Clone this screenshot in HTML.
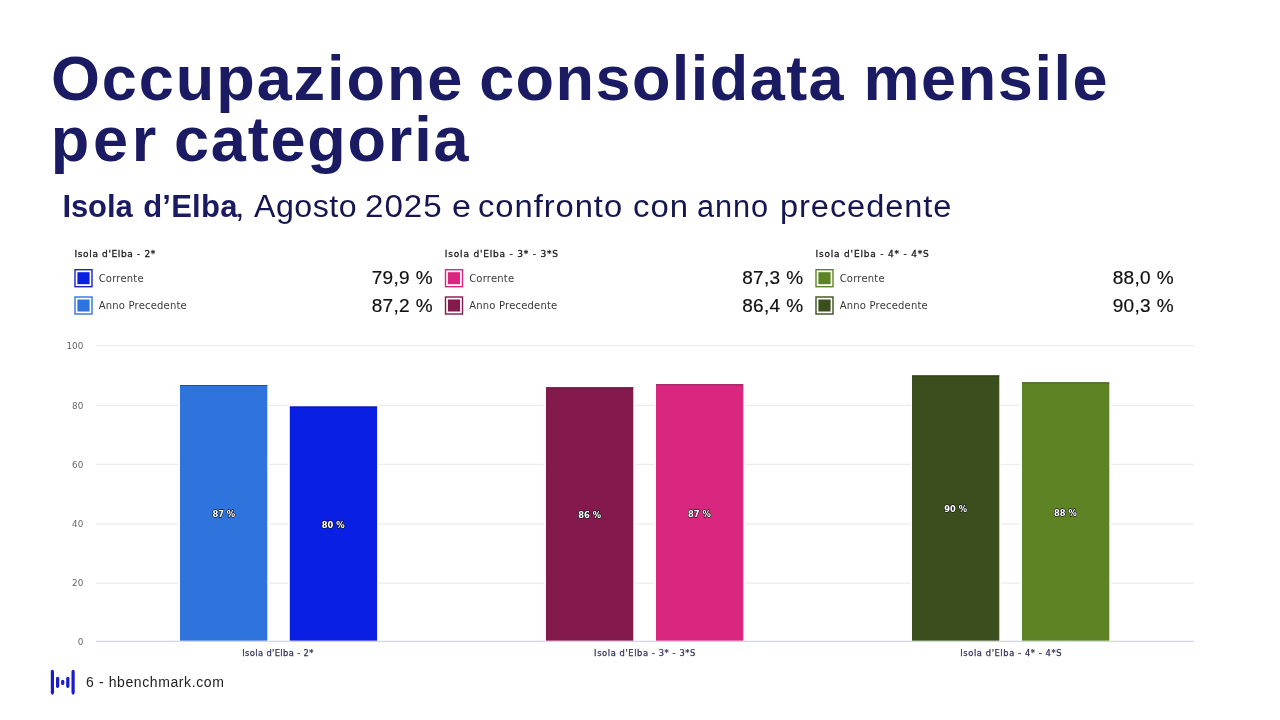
<!DOCTYPE html>
<html lang="it">
<head>
<meta charset="utf-8">
<title>Occupazione consolidata mensile per categoria</title>
<style>
html,body{margin:0;padding:0;background:#fff;}
body{width:1280px;height:720px;position:relative;overflow:hidden;font-family:"Liberation Sans",sans-serif;}
.abs{position:absolute;white-space:nowrap;line-height:1;}
.ln{color:#1b1b64;}
.ln{position:absolute;left:0;white-space:nowrap;line-height:1;margin:0;font-weight:normal;}
.w{display:inline-block;position:relative;}
.b{font-weight:bold;}
.s{transform-origin:0 50%;color:#15154f;}
.lh{font-family:"DejaVu Sans","Liberation Sans",sans-serif;font-size:9px;color:#1c1c1c;letter-spacing:0.72px;-webkit-text-stroke:0.3px #1c1c1c;}
.lt{font-family:"DejaVu Sans","Liberation Sans",sans-serif;font-size:10px;color:#3a3a3a;letter-spacing:0.2px;}
.lv{letter-spacing:0.35px;font-size:19px;color:#111;text-align:right;-webkit-text-stroke:0.2px #111;}
#foot{font-size:14px;color:#222;letter-spacing:0.6px;}
svg text{font-family:"DejaVu Sans","Liberation Sans",sans-serif;}
</style>
</head>
<body>
<div class="ln tl" id="t1" style="top:46.8px;font-size:63px"><span class="w b" style="left:50.9px;letter-spacing:1.94px">Occupazione</span> <span class="w b" style="left:48.2px;letter-spacing:1.44px">consolidata</span> <span class="w b" style="left:49.1px;letter-spacing:1.58px">mensile</span></div>
<div class="ln tl" id="t2" style="top:108.0px;font-size:63px"><span class="w b" style="left:50.8px;letter-spacing:3.75px">per</span> <span class="w b" style="left:47.2px;letter-spacing:1.80px">categoria</span></div>
<div class="ln sl" id="sub" style="top:190.9px;font-size:31px"><span class="w b" style="left:62.5px;letter-spacing:-0.12px">Isola</span> <span class="w b" style="left:64.5px;letter-spacing:0.24px">d’Elba</span><span class="w s" style="left:62.2px;letter-spacing:0.00px;transform:scaleX(1.1)">,</span> <span class="w s" style="left:63.4px;letter-spacing:0.50px;transform:scaleX(1.036)">Agosto</span> <span class="w s" style="left:66.4px;letter-spacing:0.90px;transform:scaleX(1.070)">2025</span> <span class="w s" style="left:72.2px;letter-spacing:0.00px;transform:scaleX(1.100)">e</span> <span class="w s" style="left:72.8px;letter-spacing:0.90px;transform:scaleX(1.056)">confronto</span> <span class="w s" style="left:81.9px;letter-spacing:0.90px;transform:scaleX(1.061)">con</span> <span class="w s" style="left:84.5px;letter-spacing:0.90px;transform:scaleX(0.990)">anno</span> <span class="w s" style="left:85.8px;letter-spacing:0.90px;transform:scaleX(1.050)">precedente</span></div>

<!-- legend group 1 -->
<div class="abs lh" id="lh1" style="left:74.5px;top:249.5px;letter-spacing:0.64px">Isola d'Elba - 2*</div>
<div class="abs lt" id="lt1a" style="left:98.7px;top:273.6px">Corrente</div>
<div class="abs lv" id="lv1a" style="right:847.1px;top:268.3px">79,9 %</div>
<div class="abs lt" id="lt1b" style="left:98.7px;top:300.5px">Anno Precedente</div>
<div class="abs lv" id="lv1b" style="right:847.1px;top:295.6px">87,2 %</div>

<!-- legend group 2 -->
<div class="abs lh" id="lh2" style="left:444.8px;top:249.5px;letter-spacing:0.81px">Isola d'Elba - 3* - 3*S</div>
<div class="abs lt" style="left:469.2px;top:273.6px">Corrente</div>
<div class="abs lv" style="right:476.6px;top:268.3px">87,3 %</div>
<div class="abs lt" style="left:469.2px;top:300.5px">Anno Precedente</div>
<div class="abs lv" style="right:476.6px;top:295.6px">86,4 %</div>

<!-- legend group 3 -->
<div class="abs lh" id="lh3" style="left:815.5px;top:249.5px;letter-spacing:0.81px">Isola d'Elba - 4* - 4*S</div>
<div class="abs lt" style="left:839.7px;top:273.6px">Corrente</div>
<div class="abs lv" style="right:106.1px;top:268.3px">88,0 %</div>
<div class="abs lt" style="left:839.7px;top:300.5px">Anno Precedente</div>
<div class="abs lv" style="right:106.1px;top:295.6px">90,3 %</div>

<!-- chart -->
<svg class="abs" style="left:0;top:0" width="1280" height="720" viewBox="0 0 1280 720">
  <g stroke="#ececec" stroke-width="1.3">
    <line x1="96" x2="1194" y1="345.6" y2="345.6"/>
    <line x1="96" x2="1194" y1="405.3" y2="405.3"/>
    <line x1="96" x2="1194" y1="464.4" y2="464.4"/>
    <line x1="96" x2="1194" y1="523.9" y2="523.9"/>
    <line x1="96" x2="1194" y1="583.2" y2="583.2"/>
  </g>
  <g font-size="8.8" fill="#666" text-anchor="end">
    <text x="83.3" y="349">100</text>
    <text x="83.3" y="409">80</text>
    <text x="83.3" y="468">60</text>
    <text x="83.3" y="527">40</text>
    <text x="83.3" y="586">20</text>
    <text x="83.3" y="645">0</text>
  </g>
  <g fill="#fff">
    <rect x="178.5" y="383.5" width="90.3" height="257.3"/>
    <rect x="288.3" y="405.0" width="90.3" height="235.8"/>
    <rect x="544.5" y="385.8" width="90.3" height="255.0"/>
    <rect x="654.5" y="382.7" width="90.3" height="258.1"/>
    <rect x="910.5" y="373.9" width="90.3" height="266.9"/>
    <rect x="1020.5" y="380.8" width="90.3" height="260.0"/>
  </g>
  <g>
    <rect x="180" y="385" width="87.3" height="255.8" fill="#2f74dc"/>
    <rect x="180" y="385" width="87.3" height="1" fill="#1d4788" opacity="0.8"/>
    <rect x="289.8" y="406.5" width="87.3" height="234.3" fill="#0a1fe4"/>
    <rect x="289.8" y="406.5" width="87.3" height="1" fill="#06138d" opacity="0.8"/>
    <rect x="546" y="387.3" width="87.3" height="253.5" fill="#84194d"/>
    <rect x="546" y="387.3" width="87.3" height="1" fill="#510f2f" opacity="0.8"/>
    <rect x="656" y="384.2" width="87.3" height="256.6" fill="#d9277f"/>
    <rect x="656" y="384.2" width="87.3" height="1" fill="#86184e" opacity="0.8"/>
    <rect x="912" y="375.4" width="87.3" height="265.4" fill="#3a4f1d"/>
    <rect x="912" y="375.4" width="87.3" height="1" fill="#233011" opacity="0.8"/>
    <rect x="1022" y="382.3" width="87.3" height="258.5" fill="#5e8324"/>
    <rect x="1022" y="382.3" width="87.3" height="1" fill="#3a5116" opacity="0.8"/>
  </g>
  <line x1="96" x2="1194" y1="641.3" y2="641.3" stroke="#d3d7ee" stroke-width="1.3"/>

  <g font-size="8.3" font-weight="bold" fill="#fff" text-anchor="middle" stroke="#1a1a1a" stroke-width="1.3" paint-order="stroke" stroke-linejoin="round">
    <text x="223.8" y="517">87 %</text>
    <text x="333.2" y="527.6">80 %</text>
    <text x="589.6" y="518">86 %</text>
    <text x="699.4" y="516.5">87 %</text>
    <text x="955.6" y="512">90 %</text>
    <text x="1065.4" y="515.5">88 %</text>
  </g>
  <g font-size="8.3" fill="#33335c" text-anchor="middle" letter-spacing="0.46" stroke="#33335c" stroke-width="0.25">
    <text x="278" y="655.5" letter-spacing="0.38">Isola d'Elba - 2*</text>
    <text x="645" y="655.5" letter-spacing="0.6">Isola d'Elba - 3* - 3*S</text>
    <text x="1011.2" y="655.5" letter-spacing="0.6">Isola d'Elba - 4* - 4*S</text>
  </g>
  <g fill="none" stroke-width="1.4">
    <rect x="75.0" y="269.7" width="17.0" height="17.0" stroke="#1a22c9"/>
    <rect x="77.4" y="272.2" width="12.2" height="12.0" fill="#0b1fe0" stroke="none"/>
    <rect x="75.0" y="297.0" width="17.0" height="17.0" stroke="#2f74dc"/>
    <rect x="77.4" y="299.5" width="12.2" height="12.0" fill="#2f74dc" stroke="none"/>
    <rect x="445.5" y="269.7" width="17.0" height="17.0" stroke="#d9277f"/>
    <rect x="447.9" y="272.2" width="12.2" height="12.0" fill="#d9277f" stroke="none"/>
    <rect x="445.5" y="297.0" width="17.0" height="17.0" stroke="#84194d"/>
    <rect x="447.9" y="299.5" width="12.2" height="12.0" fill="#84194d" stroke="none"/>
    <rect x="816.0" y="269.7" width="17.0" height="17.0" stroke="#5e8324"/>
    <rect x="818.4" y="272.2" width="12.2" height="12.0" fill="#5e8324" stroke="none"/>
    <rect x="816.0" y="297.0" width="17.0" height="17.0" stroke="#3a4f1d"/>
    <rect x="818.4" y="299.5" width="12.2" height="12.0" fill="#3a4f1d" stroke="none"/>
  </g>
  <g fill="#1a1ad0">
    <path d="M50.8,671.4 a1.6,1.6 0 0 1 3.2,0 V692.5999999999999 Q54.0,694.0 52.4,695.0 Q50.8,694.0 50.8,692.5999999999999 Z"/>
    <rect x="56" y="676.7" width="3.2" height="11.2" rx="1.6"/>
    <rect x="61.1" y="679.7" width="3.2" height="5.3" rx="1.6"/>
    <rect x="66.2" y="676.7" width="3.2" height="11.2" rx="1.6"/>
    <path d="M71.5,671.4 a1.6,1.6 0 0 1 3.2,0 V692.5999999999999 Q74.7,694.0 73.1,695.0 Q71.5,694.0 71.5,692.5999999999999 Z"/>
  </g>
</svg>
<div id="foot" class="abs" style="left:86px;top:675.4px">6 - hbenchmark.com</div>
</body>
</html>
